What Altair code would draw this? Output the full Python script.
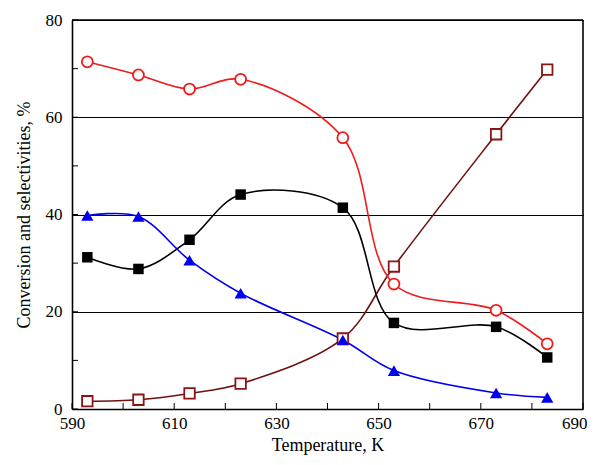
import altair as alt
import pandas as pd

temps = [593, 603, 613, 623, 643, 653, 673, 683]
red_vals = [71.4, 68.7, 65.8, 67.8, 55.8, 25.7, 20.3, 13.4]
black_vals = [31.2, 28.8, 34.8, 44.1, 41.4, 17.7, 16.9, 10.6]
blue_vals = [39.8, 39.6, 30.6, 23.8, 14.2, 7.9, 3.3, 2.4]
brown_vals = [1.6, 1.9, 3.2, 5.2, 14.5, 29.3, 56.5, 69.8]

x_ticks = list(range(590, 691, 10))
y_ticks = list(range(0, 81, 10))

W, H = 511, 389
FONT = "Liberation Serif"

def series_df(vals, name):
    return pd.DataFrame({"T": temps, "v": vals, "s": name})

x_scale = alt.Scale(domain=[590, 690], nice=False)
y_scale = alt.Scale(domain=[0, 80], nice=False)

x_enc = alt.X("T:Q", scale=x_scale,
              axis=alt.Axis(title="Temperature, K", values=list(range(590, 691, 20)),
                            format="d", tickSize=0, labelPadding=6, grid=False,
                            labelFlush=False, labelOverlap=False,
                            labelAlign={"condition": {"test": "datum.value >= 690", "value": "right"},
                                        "value": "center"},
                            labelOffset={"condition": {"test": "datum.value >= 690", "value": 4},
                                         "value": 0},
                            domain=True, domainColor="black", domainWidth=1.6,
                            labelFont=FONT, labelFontSize=17,
                            titleFont=FONT, titleFontSize=18, titleFontWeight="normal",
                            labelColor="black", titleColor="black", titlePadding=5))
y_enc = alt.Y("v:Q", scale=y_scale,
              axis=alt.Axis(title="Conversion and selectivities, %", values=[0, 20, 40, 60, 80],
                            tickSize=0, labelPadding=10, grid=True, gridColor="black",
                            labelFlush=False, labelOverlap=False,
                            domain=True, domainColor="black", domainWidth=1.6,
                            gridWidth=1, labelFont=FONT, labelFontSize=17,
                            titleFont=FONT, titleFontSize=18, titleFontWeight="normal",
                            labelColor="black", titleColor="black", titlePadding=12))

def layer(vals, name, color, shape, filled, size, linecolor=None):
    df = series_df(vals, name)
    base = alt.Chart(df)
    line = base.mark_line(color=linecolor or color, strokeWidth=1.6,
                          interpolate="catmull-rom").encode(x=x_enc, y=y_enc)
    if filled:
        pt = base.mark_point(shape=shape, filled=True, color=color, size=size, opacity=1)
    else:
        pt = base.mark_point(shape=shape, filled=False, stroke=color, fill="white",
                             fillOpacity=1, strokeWidth=1.8, size=size, opacity=1)
    pt = pt.encode(x="T:Q", y="v:Q")
    return line, pt

lr, pr = layer(red_vals, "red", "#ee1c1c", "circle", False, 120)
lk, pk = layer(black_vals, "black", "black", "square", True, 110)
lb, pb = layer(blue_vals, "blue", "#0000ee", "triangle-up", True, 150)
lw, pw = layer(brown_vals, "brown", "#8b1414", "square", False, 110, linecolor="#6e1010")

xt = alt.Chart(pd.DataFrame({"t": x_ticks})).mark_rule(color="black", strokeWidth=1).encode(
    x=alt.X("t:Q", scale=x_scale), y=alt.value(H), y2=alt.value(H - 6))
yt = alt.Chart(pd.DataFrame({"t": y_ticks})).mark_rule(color="black", strokeWidth=1).encode(
    y=alt.Y("t:Q", scale=y_scale), x=alt.value(0), x2=alt.value(6))

# right and top edges of the frame, placed at the scale ends
edge_x = pd.DataFrame({"T": [690], "v": [0], "v2": [80]})
edge_y = pd.DataFrame({"T": [590], "T2": [690], "v": [80]})
frame_r = alt.Chart(edge_x).mark_rule(color="black", strokeWidth=1.6).encode(
    x=alt.X("T:Q", scale=x_scale), y=alt.Y("v:Q", scale=y_scale), y2="v2:Q")
frame_t = alt.Chart(edge_y).mark_rule(color="black", strokeWidth=1.6).encode(
    x=alt.X("T:Q", scale=x_scale), x2="T2:Q", y=alt.Y("v:Q", scale=y_scale))

chart = alt.layer(xt, yt, lw, lr, lk, lb, pw, pr, pk, pb, frame_r, frame_t).properties(
    width=W, height=H,
    background="white",
    autosize=alt.AutoSizeParams(type="none"),
    padding={"left": 64, "top": 12, "right": 4, "bottom": 48},
).configure_view(stroke=None)

chart.save("out.html", embed_options={"renderer": "svg", "actions": False})
